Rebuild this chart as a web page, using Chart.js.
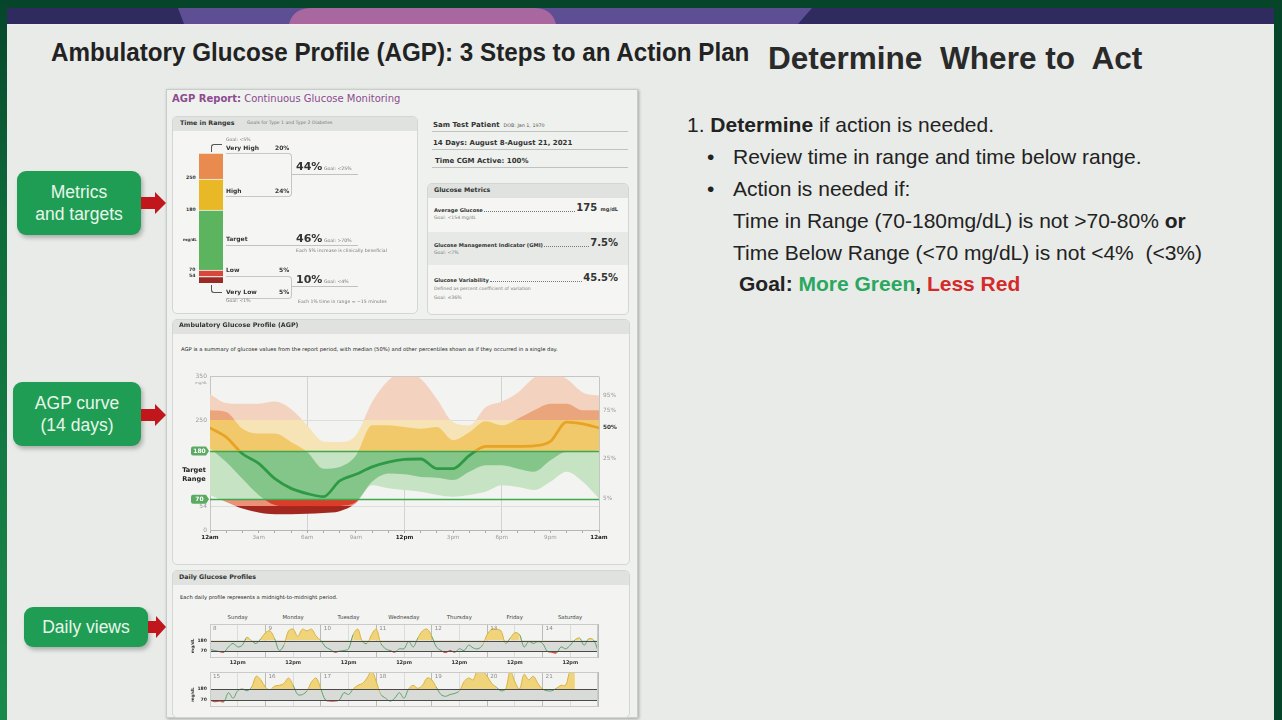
<!DOCTYPE html>
<html><head><meta charset="utf-8">
<script src="https://cdn.jsdelivr.net/npm/chart.js@4.4.0/dist/chart.umd.min.js"></script>
<style>
html,body{margin:0;padding:0}
body{width:1282px;height:720px;overflow:hidden;position:relative;background:#06452a;font-family:"Liberation Sans",Arial,sans-serif}
.a{position:absolute}
.t{position:absolute;white-space:nowrap;transform:translateY(-50%);line-height:1.15}
#slide{left:7px;top:24px;width:1267px;height:696px;background:#e8ebe8}
#lstrip{left:0;top:0;width:7px;height:720px;background:linear-gradient(#06452a,#0f6a3a 30%,#1a8a4c)}
.gbox{position:absolute;background:#1f9d55;border-radius:9px;color:#e9f6ea;font-size:17.5px;text-align:center;box-shadow:2px 3px 4px rgba(0,0,0,.25);display:flex;align-items:center;justify-content:center;line-height:22px}
#card{left:166px;top:89px;width:470px;height:627px;background:#eff1ee;border:1px solid #c9ccc9;box-shadow:1px 1px 3px rgba(0,0,0,.3)}
.panel{position:absolute;background:#f5f6f4;border:1px solid #d3d6d3;border-radius:5px;overflow:hidden}
.phead{position:absolute;left:0;top:0;right:0;height:14px;background:#dfe2df}
.r{font-family:"DejaVu Sans",sans-serif;color:#333}
.b{font-weight:bold}
.tiny{font-size:4.6px;color:#777}
.sm{font-size:6px}
.big{font-size:11px;font-weight:bold;color:#333}
.ln{position:absolute;background:#bfc2bf;height:1px}
.row{position:absolute;display:flex;align-items:flex-end;font-family:"DejaVu Sans",sans-serif;color:#333}
.row .lab{font-size:5.2px;font-weight:bold;white-space:nowrap}
.row .dots{flex:1;border-bottom:1px dotted #777;margin:0 1px 1px 1px}
.row .val{font-size:10px;font-weight:bold;white-space:nowrap;line-height:1}
.rt{font-size:21px;color:#222}
</style></head>
<body>
<div id="lstrip" class="a"></div>
<div id="slide" class="a"></div>
<svg class="a" style="left:0;top:0" width="1282" height="26">
  <rect x="7" y="8" width="1267" height="16" fill="#2f2b5e"/>
  <polygon points="178,8 812,8 798,24 184,24" fill="#5e4f94"/>
  <path d="M289 24 Q293 8 312 8 L534 8 Q552 8 556 24 Z" fill="#a8679e"/>
  <rect x="7" y="24" width="1267" height="1.5" fill="#f3e9f1"/>
</svg>

<div id="title1" class="t b" style="left:51px;top:52px;font-size:25px;color:#222;transform-origin:0 50%">Ambulatory Glucose Profile (AGP): 3 Steps to an Action Plan</div>
<div id="title2" class="t b" style="left:768px;top:58px;font-size:32px;color:#2a2a2a;white-space:pre;transform-origin:0 50%">Determine  Where to  Act</div>

<div class="t rt" style="left:687px;top:125px">1. <b>Determine</b> if action is needed.</div>
<div class="t rt" style="left:707px;top:157px">•</div>
<div class="t rt" style="left:733px;top:157px">Review time in range and time below range.</div>
<div class="t rt" style="left:707px;top:189px">•</div>
<div class="t rt" style="left:733px;top:189px">Action is needed if:</div>
<div class="t rt" style="left:733px;top:221px">Time in Range (70-180mg/dL) is not &gt;70-80% <b>or</b></div>
<div class="t rt" style="left:733px;top:253px;white-space:pre">Time Below Range (&lt;70 mg/dL) is not &lt;4%  (&lt;3%)</div>
<div class="t rt b" style="left:739px;top:284px">Goal: <span style="color:#2aa760">More Green</span>, <span style="color:#d42a2a">Less Red</span></div>

<div class="gbox" style="left:17px;top:171px;width:124px;height:64px">Metrics<br>and targets</div>
<div class="gbox" style="left:13px;top:382px;width:128px;height:64px">AGP curve<br>(14 days)</div>
<div class="gbox" style="left:24px;top:607px;width:124px;height:40px">Daily views</div>
<svg class="a" style="left:140px;top:191px" width="27" height="24"><polygon points="1,6 15,6 15,1 26,12 15,23 15,18 1,18" fill="#c0161c"/></svg>
<svg class="a" style="left:140px;top:403px" width="27" height="24"><polygon points="1,6 15,6 15,1 26,12 15,23 15,18 1,18" fill="#c0161c"/></svg>
<svg class="a" style="left:147px;top:615px" width="20" height="24"><polygon points="1,6 9,6 9,1 19,12 9,23 9,18 1,18" fill="#c0161c"/></svg>

<div id="card" class="a"></div>
<div class="t r" style="left:172px;top:99px;font-size:10px;color:#8c4b90"><b>AGP Report:</b> Continuous Glucose Monitoring</div>

<!-- Time in ranges panel -->
<div class="panel" style="left:172px;top:116px;width:244px;height:196px"><div class="phead"></div></div>
<div class="t r b" style="left:180px;top:123px;font-size:6.3px">Time in Ranges</div>
<div class="t r tiny" style="left:247px;top:123px">Goals for Type 1 and Type 2 Diabetes</div>
<canvas id="tirChart" class="a" width="30" height="136" style="left:196px;top:150px"></canvas>
<div class="t r b" style="left:186px;top:178px;font-size:4.6px">250</div>
<div class="t r b" style="left:186px;top:210px;font-size:4.6px">180</div>
<div class="t r b" style="left:183px;top:240px;font-size:4px">mg/dL</div>
<div class="t r b" style="left:189px;top:270px;font-size:4.6px">70</div>
<div class="t r b" style="left:189px;top:276px;font-size:4.6px">54</div>
<div class="a" style="left:211px;top:144px;width:10px;height:7px;border-left:1px solid #555;border-top:1px solid #555;border-top-left-radius:3px"></div>
<div class="a" style="left:211px;top:285px;width:10px;height:7px;border-left:1px solid #555;border-bottom:1px solid #555;border-bottom-left-radius:3px"></div>
<div class="t r tiny" style="left:226px;top:140px">Goal: &lt;5%</div>
<div class="t r b sm" style="left:226px;top:148px">Very High</div>
<div class="t r b sm" style="left:275px;top:148px">20%</div>
<div class="a" style="left:226px;top:153px;width:65px;height:42px;border:1px solid #c4c7c4;border-left:none;border-radius:0 4px 4px 0"></div>
<div class="ln" style="left:292px;top:174px;width:66px"></div>
<div class="t r big" style="left:296px;top:167px">44%</div>
<div class="t r tiny" style="left:324px;top:169px">Goal: &lt;25%</div>
<div class="t r b sm" style="left:226px;top:191px">High</div>
<div class="t r b sm" style="left:275px;top:191px">24%</div>
<div class="t r b sm" style="left:226px;top:239px">Target</div>
<div class="ln" style="left:226px;top:245px;width:132px"></div>
<div class="t r big" style="left:296px;top:239px">46%</div>
<div class="t r tiny" style="left:324px;top:241px">Goal: &gt;70%</div>
<div class="t r tiny" style="left:296px;top:251px">Each 5% increase is clinically beneficial</div>
<div class="t r b sm" style="left:226px;top:270px">Low</div>
<div class="t r b sm" style="left:279px;top:270px">5%</div>
<div class="a" style="left:226px;top:276px;width:65px;height:21px;border:1px solid #c4c7c4;border-left:none;border-radius:0 4px 4px 0"></div>
<div class="ln" style="left:292px;top:286px;width:66px"></div>
<div class="t r big" style="left:296px;top:280px">10%</div>
<div class="t r tiny" style="left:324px;top:282px">Goal: &lt;4%</div>
<div class="t r b sm" style="left:226px;top:292px">Very Low</div>
<div class="t r b sm" style="left:279px;top:292px">5%</div>
<div class="t r tiny" style="left:226px;top:301px">Goal: &lt;1%</div>
<div class="t r tiny" style="left:298px;top:302px">Each 1% time in range = ~15 minutes</div>

<!-- patient info -->
<div class="t r b" style="left:433px;top:125px;font-size:7px">Sam Test Patient <span style="font-weight:normal;font-size:4.8px;color:#555">&nbsp;DOB: Jan 1, 1970</span></div>
<div class="ln" style="left:432px;top:131px;width:196px"></div>
<div class="t r b" style="left:433px;top:143px;font-size:7px">14 Days: August 8-August 21, 2021</div>
<div class="ln" style="left:432px;top:149px;width:196px"></div>
<div class="t r b" style="left:435px;top:161px;font-size:7px">Time CGM Active: 100%</div>
<div class="ln" style="left:432px;top:167px;width:196px"></div>

<div class="panel" style="left:427px;top:183px;width:200px;height:130px"><div class="phead"></div>
  <div class="a" style="left:0;top:48px;width:200px;height:33px;background:#e6e9e6"></div></div>
<div class="t r b" style="left:434px;top:190px;font-size:6.3px">Glucose Metrics</div>
<div class="row" style="left:434px;top:202px;width:184px;height:11px"><span class="lab">Average Glucose</span><span class="dots"></span><span class="val">175 <span style="font-size:5px">mg/dL</span></span></div>
<div class="t r tiny" style="left:434px;top:218px">Goal: &lt;154 mg/dL</div>
<div class="row" style="left:434px;top:237px;width:184px;height:11px"><span class="lab">Glucose Management Indicator (GMI)</span><span class="dots"></span><span class="val">7.5%</span></div>
<div class="t r tiny" style="left:434px;top:253px">Goal: &lt;7%</div>
<div class="row" style="left:434px;top:272px;width:184px;height:11px"><span class="lab">Glucose Variability</span><span class="dots"></span><span class="val">45.5%</span></div>
<div class="t r tiny" style="left:434px;top:289px">Defined as percent coefficient of variation</div>
<div class="t r tiny" style="left:434px;top:298px">Goal: ≤36%</div>

<!-- AGP panel -->
<div class="panel" style="left:172px;top:319px;width:456px;height:244px;background:#f3f4f2"><div class="phead"></div></div>
<div class="t r b" style="left:179px;top:325px;font-size:6.3px">Ambulatory Glucose Profile (AGP)</div>
<div class="t r" style="left:181px;top:349px;font-size:5.25px;color:#222">AGP is a summary of glucose values from the report period, with median (50%) and other percentiles shown as if they occurred in a single day.</div>
<canvas id="agpChart" class="a" width="452" height="172" style="left:172px;top:370px"></canvas>

<!-- Daily panel -->
<div class="panel" style="left:172px;top:570px;width:456px;height:146px;background:#f3f4f2"><div class="phead"></div></div>
<div class="t r b" style="left:179px;top:577px;font-size:6.3px">Daily Glucose Profiles</div>
<div class="t r" style="left:180px;top:597px;font-size:5.25px;color:#222">Each daily profile represents a midnight-to-midnight period.</div>
<div id="dayNames"></div>
<canvas id="dailyChart1" class="a" width="425" height="52" style="left:186px;top:620px"></canvas>
<canvas id="dailyChart2" class="a" width="425" height="44" style="left:186px;top:668px"></canvas>

<script>
// ---------------- DATA ----------------
// Time in ranges (%), bottom to top
const tirCategories = ['Very Low','Low','Target','High','Very High'];
const tirValues = [5, 5, 46, 24, 20];

// AGP percentiles, hourly from 12am to 12am (mg/dL)
const agpHourLabels = ['12am','3am','6am','9am','12pm','3pm','6pm','9pm','12am'];
const agpP95 = [310,290,288,288,293,276,239,202,201,216,292,341,362,345,299,246,239,280,293,314,348,362,345,314,307];
const agpP75 = [273,269,231,220,220,201,178,140,144,170,239,239,235,231,235,205,223,248,239,254,273,288,288,273,273];
const agpP50 = [233,212,174,152,117,95,83,76,112,127,144,155,161,162,140,140,170,191,191,191,192,202,246,242,233];
const agpP25 = [186,155,117,80,57,53,55,53,55,64,110,129,127,121,119,114,133,148,148,140,133,159,178,178,182];
const agpP5  = [80,64,49,40,36,36,37,39,43,61,102,95,91,87,80,76,80,87,102,98,91,110,133,110,72];
const agpPercentLabels = ['95%','75%','50%','25%','5%'];
const agpYTicks = [0,54,70,180,250,350];

// Daily profiles, every 2 hours (mg/dL), week 1 = Aug 8-14, week 2 = Aug 15-21
const weekdayNames = ['Sunday','Monday','Tuesday','Wednesday','Thursday','Friday','Saturday'];
const week1Dates = [8,9,10,11,12,13,14];
const week2Dates = [15,16,17,18,19,20,21];
const week1Glucose = [
  88,77,66,59,114,150,114,132,213,176,150,198,
  260,279,198,77,132,279,297,224,297,279,297,224,
  180,114,88,59,70,77,95,242,297,169,150,242,
  297,150,95,77,59,95,95,169,114,206,279,297,
  224,114,77,55,77,59,95,77,132,103,95,132,
  242,297,297,279,150,206,260,242,114,169,150,169,
  150,70,59,51,114,95,132,187,206,132,198,187,
  77];
const week2Glucose = [
  70,52,59,52,143,88,162,180,162,198,308,272,
  198,173,209,217,235,290,217,125,125,162,253,290,
  180,70,59,59,70,143,125,180,217,235,290,363,
  253,125,88,59,88,143,88,180,217,187,217,290,
  272,198,125,107,125,136,162,253,290,272,382,363,
  308,235,198,162,180,363,253,180,327,272,308,235,
  180,162,162,187,217,217,363,363];

// ---------------- HELPERS ----------------
function fitWidth(id, w){const el=document.getElementById(id);const s=w/el.scrollWidth;el.style.transform='translateY(-50%) scaleX('+s+')';}
fitWidth('title1', 698);
fitWidth('title2', 374);

const dn=document.getElementById('dayNames');
weekdayNames.forEach((n,i)=>{const d=document.createElement('div');d.className='t r';d.style.cssText='left:'+(210+55.4*(i+0.5))+'px;top:617px;font-size:5.4px;color:#444;transform:translate(-50%,-50%)';d.textContent=n;dn.appendChild(d);});

Chart.defaults.font.family = '"DejaVu Sans", sans-serif';
Chart.defaults.animation = false;
Chart.defaults.plugins.legend.display = false;
Chart.defaults.plugins.tooltip.enabled = false;

const tv = c => (c && c.tick) ? c.tick.value : null;

// ---------------- TIME IN RANGES BAR ----------------
const tirColors = ['#9b2a24','#d8453a','#5db45e','#e9b826','#e98a4f'];
new Chart(document.getElementById('tirChart'), {
  type:'bar',
  data:{labels:[''], datasets: tirValues.map((v,i)=>({label:tirCategories[i], data:[v], backgroundColor:tirColors[i],
     borderColor:'#f5f6f4', borderWidth:{top:1,bottom:0,left:0,right:0}, borderSkipped:false, barPercentage:1, categoryPercentage:1}))},
  options:{responsive:false, layout:{padding:{left:3,right:3,top:3,bottom:3}},
    scales:{x:{display:false, stacked:true}, y:{display:false, stacked:true, min:0, max:100}}}
});

// ---------------- AGP ----------------
const hourIdx = agpP50.map((_,i)=>i);
const pts = arr => arr.map((v,i)=>({x:hourIdx[i], y:v}));
const bandBreaks = [250,180,70,54];
function bandGradient(chart, colors){
  const {ctx, chartArea, scales} = chart;
  if(!chartArea || !scales || !scales.y) return colors[2];
  const y = scales.y, top = y.getPixelForValue(350), bot = y.getPixelForValue(0);
  if(!isFinite(top) || !isFinite(bot) || bot<=top) return colors[2];
  const g = ctx.createLinearGradient(0, top, 0, bot);
  const f = v => Math.min(1, Math.max(0, (y.getPixelForValue(v)-top)/(bot-top)));
  g.addColorStop(0, colors[0]);
  bandBreaks.forEach((b,i)=>{g.addColorStop(f(b), colors[i]); g.addColorStop(Math.min(1,f(b)+0.0001), colors[i+1]);});
  g.addColorStop(1, colors[4]);
  return g;
}
const outerColors = ['#f3d3bf','#f6e4b6','#c6e3c3','#ec9178','#a2281f'];
const innerColors = ['#eba57c','#f1c96b','#84c689','#dc3d2b','#b5261c'];
const medianColors = ['#e7a326','#e7a326','#2f9a46','#2f9a46','#2f9a46'];

const agpDecor = {
  id:'agpDecor',
  beforeDatasetDraw(chart, args){
    if(args.index!==4) return;
    const {ctx, chartArea:a, scales:{y}} = chart;
    ctx.save(); ctx.strokeStyle='#3da84d'; ctx.lineWidth=1.5;
    [180,70].forEach(v=>{const py=Math.round(y.getPixelForValue(v))+0.5; ctx.beginPath(); ctx.moveTo(a.left,py); ctx.lineTo(a.right,py); ctx.stroke();});
    ctx.restore();
  },
  afterDraw(chart){
    const {ctx, chartArea:a, scales:{y}} = chart;
    ctx.save();
    [180,70].forEach(v=>{
      const py=y.getPixelForValue(v), x0=a.left-19, w=15, h=9;
      ctx.fillStyle='#5aaa62'; ctx.beginPath();
      ctx.moveTo(x0+2,py-h/2); ctx.lineTo(x0+w,py-h/2); ctx.lineTo(x0+w+3,py); ctx.lineTo(x0+w,py+h/2); ctx.lineTo(x0+2,py+h/2);
      ctx.quadraticCurveTo(x0,py+h/2,x0,py+h/2-2); ctx.lineTo(x0,py-h/2+2); ctx.quadraticCurveTo(x0,py-h/2,x0+2,py-h/2); ctx.fill();
      ctx.fillStyle='#fff'; ctx.font='bold 6px "DejaVu Sans"'; ctx.textAlign='center'; ctx.textBaseline='middle';
      ctx.fillText(String(v), x0+w/2+1, py+0.5);
    });
    const mid=(y.getPixelForValue(180)+y.getPixelForValue(70))/2;
    ctx.fillStyle='#222'; ctx.font='bold 6.6px "DejaVu Sans"'; ctx.textAlign='center'; ctx.textBaseline='middle';
    ctx.fillText('Target', a.left-16, mid-5); ctx.fillText('Range', a.left-16, mid+4);
    ctx.fillStyle='#999'; ctx.font='3.8px "DejaVu Sans"'; ctx.textAlign='right';
    ctx.fillText('mg/dL', a.left-3, y.getPixelForValue(350)+6);
    const lastVals=[agpP95,agpP75,agpP50,agpP25,agpP5].map(arr=>arr[arr.length-1]);
    ctx.textAlign='left';
    lastVals.forEach((v,i)=>{
      ctx.font=(i===2?'bold ':'')+'5.8px "DejaVu Sans"'; ctx.fillStyle=i===2?'#333':'#999';
      let py=y.getPixelForValue(v); if(i===3) py+=8;
      ctx.fillText(agpPercentLabels[i], a.right+4, py);
    });
    ctx.restore();
  }
};

new Chart(document.getElementById('agpChart'), {
  type:'line',
  data:{datasets:[
    {label:'95%', data:pts(agpP95), fill:1, backgroundColor:c=>bandGradient(c.chart,outerColors), borderColor:'transparent', borderWidth:0, pointRadius:0, cubicInterpolationMode:'monotone', order:4},
    {label:'5%', data:pts(agpP5), fill:false, borderColor:'transparent', borderWidth:0, pointRadius:0, cubicInterpolationMode:'monotone', order:5},
    {label:'75%', data:pts(agpP75), fill:3, backgroundColor:c=>bandGradient(c.chart,innerColors), borderColor:'transparent', borderWidth:0, pointRadius:0, cubicInterpolationMode:'monotone', order:2},
    {label:'25%', data:pts(agpP25), fill:false, borderColor:'transparent', borderWidth:0, pointRadius:0, cubicInterpolationMode:'monotone', order:3},
    {label:'50%', data:pts(agpP50), fill:false, borderColor:c=>bandGradient(c.chart,medianColors), borderWidth:2.8, pointRadius:0, cubicInterpolationMode:'monotone', order:0, borderCapStyle:'round'}
  ]},
  options:{responsive:false, layout:{padding:{top:6,right:25,left:0,bottom:0}},
    scales:{
      x:{type:'linear', min:0, max:24,
        afterBuildTicks:s=>{s.ticks=hourIdx.map(v=>({value:v}));},
        afterFit:s=>{s.height=12;},
        ticks:{autoSkip:false, maxRotation:0, padding:1,
          color:c=>{const v=tv(c);return v!==null&&v%12===0?'#222':'#999';},
          font:c=>{const v=tv(c);return {size:5.6, weight:(v!==null&&v%12===0)?'bold':'normal'};},
          callback:v=>v%3===0?agpHourLabels[v/3]:''},
        grid:{color:c=>{const v=tv(c);return [6,12,18].includes(v)?'#d2d4d2':([0,24].includes(v)?'#c4c6c4':'rgba(0,0,0,0)');},
          tickColor:'#aaa', tickLength:3, lineWidth:1},
        border:{color:'#b5b7b5'}},
      y:{type:'linear', min:0, max:350,
        afterBuildTicks:s=>{s.ticks=agpYTicks.map(v=>({value:v}));},
        afterFit:s=>{s.width=38;},
        ticks:{padding:3, color:'#999', font:{size:6}, callback:v=>(v===180||v===70)?'':String(v)},
        grid:{drawTicks:false, color:c=>{const v=tv(c);return v===350?'#c4c6c4':((v===250||v===54)?'#dcdedc':'rgba(0,0,0,0)');}},
        border:{color:'#c4c6c4'}}
    }},
  plugins:[agpDecor]
});

// ---------------- DAILY PROFILES ----------------
function segColor(c){const v=(c.p0.parsed.y+c.p1.parsed.y)/2; return v>180?'#d9b23e':(v<70?'#d0402f':'#5aa46a');}
function dailyChart(id, values, dates, showLabels){
  const data = values.map((v,i)=>({x:i*2, y:v}));
  const decor = {
    id:'dailyDecor',
    beforeDatasetsDraw(chart){
      const {ctx, chartArea:a, scales:{y}} = chart;
      ctx.save(); ctx.fillStyle='#d9dbd8';
      const y1=y.getPixelForValue(180), y2=y.getPixelForValue(70);
      ctx.fillRect(a.left,y1,a.right-a.left,y2-y1); ctx.restore();
    },
    afterDatasetsDraw(chart){
      const {ctx, chartArea:a, scales:{x,y}} = chart;
      ctx.save(); ctx.strokeStyle='#4a4a4a'; ctx.lineWidth=1;
      [180,70].forEach(v=>{const py=Math.round(y.getPixelForValue(v))+0.5; ctx.beginPath(); ctx.moveTo(a.left,py); ctx.lineTo(a.right,py); ctx.stroke();});
      ctx.strokeStyle='#c9cbc9'; ctx.strokeRect(a.left+0.5,a.top+0.5,a.right-a.left-1,a.bottom-a.top-1);
      ctx.fillStyle='#888'; ctx.font='5.6px "DejaVu Sans"'; ctx.textBaseline='top';
      dates.forEach((d,i)=>ctx.fillText(String(d), x.getPixelForValue(i*24)+3, a.top+2));
      ctx.fillStyle='#333'; ctx.font='bold 4.6px "DejaVu Sans"'; ctx.textBaseline='middle'; ctx.textAlign='right';
      ctx.fillText('180', a.left-3, y.getPixelForValue(180)); ctx.fillText('70', a.left-3, y.getPixelForValue(70));
      ctx.translate(a.left-17, (y.getPixelForValue(180)+y.getPixelForValue(70))/2); ctx.rotate(-Math.PI/2);
      ctx.textAlign='center'; ctx.font='bold 4.2px "DejaVu Sans"'; ctx.fillText('mg/dL',0,0);
      ctx.restore();
    }
  };
  return new Chart(document.getElementById(id), {
    type:'line',
    data:{datasets:[
      {data, borderWidth:1, pointRadius:0, tension:0.35, segment:{borderColor:segColor}, borderColor:'#5aa46a',
       fill:{target:{value:180}, above:'#f0d47c', below:'rgba(0,0,0,0)'}},
      {data, borderWidth:0, borderColor:'transparent', pointRadius:0, tension:0.35,
       fill:{target:{value:70}, above:'rgba(0,0,0,0)', below:'#e1604b'}}
    ]},
    options:{responsive:false, layout:{padding:{top:4,right:13,left:0,bottom:0}},
      scales:{
        x:{type:'linear', min:0, max:168,
          afterBuildTicks:s=>{const t=[];for(let v=0;v<=168;v+=12)t.push({value:v});s.ticks=t;},
          afterFit:s=>{s.height=showLabels?14:5;},
          ticks:{display:showLabels, autoSkip:false, maxRotation:0, padding:2, color:'#333', font:{size:5, weight:'bold'}, callback:v=>v%24===12?'12pm':''},
          grid:{color:c=>{const v=tv(c);return v!==null&&v%24===0?'#b9bbb9':'#dadcda';}, drawTicks:false}, border:{display:false}},
        y:{min:0, max:350, afterFit:s=>{s.width=24;}, ticks:{display:false}, grid:{display:false}, border:{display:false}}
      }},
    plugins:[decor]
  });
}
dailyChart('dailyChart1', week1Glucose, week1Dates, true);
dailyChart('dailyChart2', week2Glucose, week2Dates, false);
</script>
</body></html>
